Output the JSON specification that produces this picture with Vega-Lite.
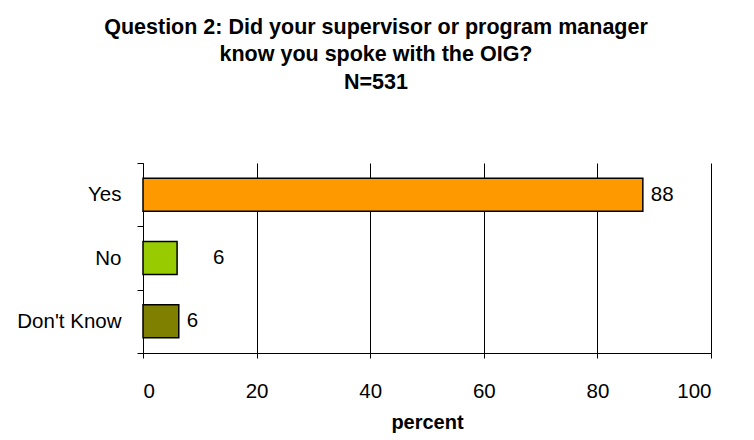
{
  "$schema": "https://vega.github.io/schema/vega-lite/v6.json",
  "width": 568,
  "height": 190,
  "autosize": {"type": "none"},
  "padding": {"left": 143, "top": 163, "right": 43, "bottom": 87},
  "background": "white",
  "config": {
    "font": "Liberation Sans",
    "view": {"stroke": null},
    "axis": {"labelColor": "#000", "titleColor": "#000", "domainColor": "#000", "tickColor": "#000", "gridColor": "#000", "gridOpacity": 1, "domainWidth": 1, "tickWidth": 1, "gridWidth": 1}
  },
  "title": {
    "text": ["Question 2:  Did your supervisor or program manager", "know you spoke with the OIG?", "N=531"],
    "font": "Liberation Sans",
    "fontSize": 21.5,
    "fontWeight": "bold",
    "color": "#000",
    "lineHeight": 27.5,
    "anchor": "middle",
    "dx": -51,
    "offset": 60
  },
  "data": {
    "values": [
      {"answer": "Yes", "percent": 88, "label": "88"},
      {"answer": "No", "percent": 6, "label": "6"},
      {"answer": "Don't Know", "percent": 6.3, "label": "6"}
    ]
  },
  "encoding": {
    "y": {
      "field": "answer", "type": "nominal", "sort": ["Yes", "No", "Don't Know"],
      "scale": {"paddingInner": 0, "paddingOuter": 0},
      "axis": {"title": null, "tickBand": "extent", "tickSize": 6, "labelFontSize": 20.5, "labelPadding": 16, "grid": false}
    },
    "x": {
      "field": "percent", "type": "quantitative",
      "scale": {"domain": [0, 100], "nice": false},
      "axis": {"title": "percent", "values": [0, 20, 40, 60, 80, 100], "grid": true, "tickSize": 5, "labelFontSize": 20.5, "labelPadding": 23, "titleFontSize": 20, "titleFontWeight": "bold", "titlePadding": 11}
    }
  },
  "layer": [
    {
      "mark": {"type": "bar", "size": 33, "stroke": "#000", "strokeWidth": 1.5},
      "encoding": {
        "color": {
          "field": "answer", "type": "nominal",
          "scale": {"domain": ["Yes", "No", "Don't Know"], "range": ["#FF9900", "#99CC00", "#808000"]},
          "legend": null
        }
      }
    },
    {
      "transform": [{"filter": "datum.answer !== 'No'"}],
      "mark": {"type": "text", "align": "left", "baseline": "middle", "dx": 8, "fontSize": 20.5, "color": "#000"},
      "encoding": {"text": {"field": "label"}}
    },
    {
      "transform": [{"filter": "datum.answer === 'No'"}],
      "mark": {"type": "text", "align": "left", "baseline": "middle", "dx": 36, "fontSize": 20.5, "color": "#000"},
      "encoding": {"text": {"field": "label"}}
    }
  ]
}
